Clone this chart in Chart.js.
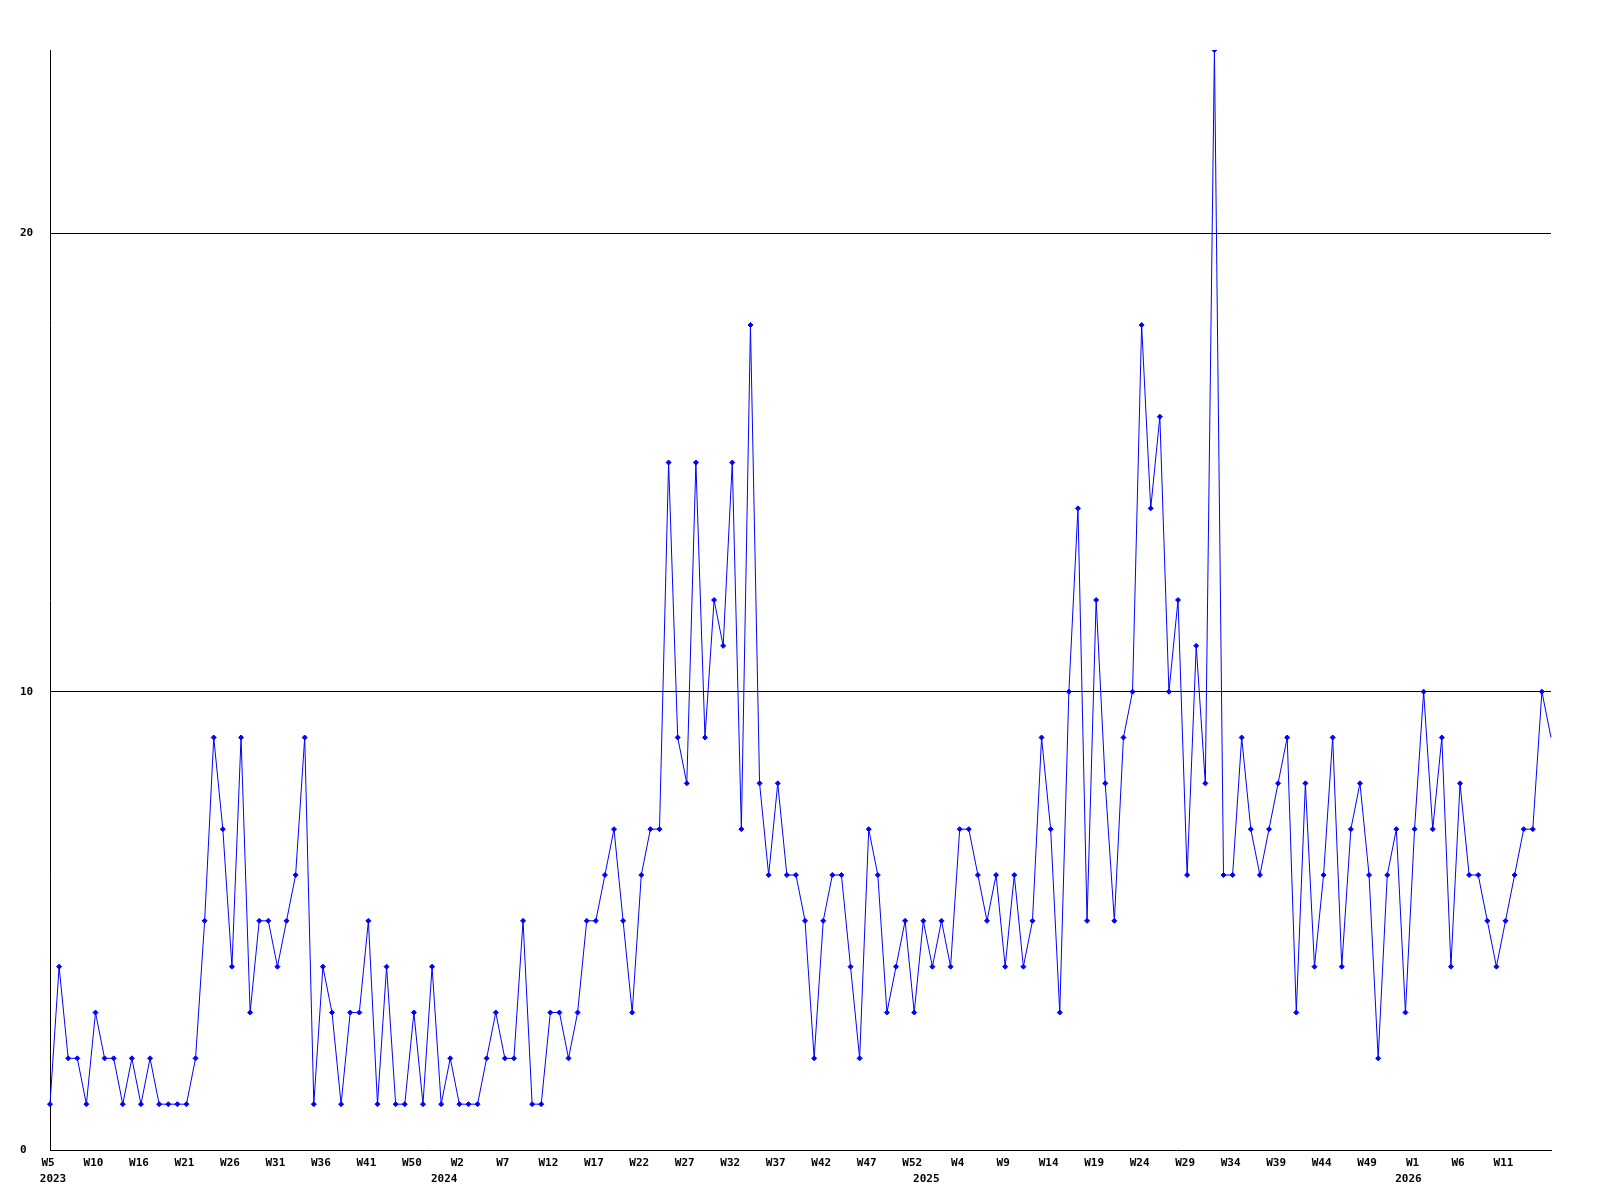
<!DOCTYPE html>
<html>
<head>
<meta charset="utf-8">
<script src="https://cdn.jsdelivr.net/npm/chart.js@4/dist/chart.umd.min.js"></script>
<style>
  html, body { margin: 0; padding: 0; background: #ffffff; }
  #wrap { width: 1600px; height: 1200px; }
</style>
</head>
<body>
<div id="wrap"><canvas id="c" width="1600" height="1200"></canvas></div>
<script>
// Weekly counts, 2023 W5 .. 2026 (one value per plotted week)
const values = [
  1,4,2,2,1,3,2,2,1,2,
  1,2,1,1,1,1,2,5,9,7,
  4,9,3,5,5,4,5,6,9,1,
  4,3,1,3,3,5,1,4,1,1,
  3,1,4,1,2,1,1,1,2,3,
  2,2,5,1,1,3,3,2,3,5,
  5,6,7,5,3,6,7,7,15,9,
  8,15,9,12,11,15,7,18,8,6,
  8,6,6,5,2,5,6,6,4,2,
  7,6,3,4,5,3,5,4,5,4,
  7,7,6,5,6,4,6,4,5,9,
  7,3,10,14,5,12,8,5,9,10,
  18,14,16,10,12,6,11,8,24,6,
  6,9,7,6,7,8,9,3,8,4,
  6,9,4,7,8,6,2,6,7,3,
  7,10,7,9,4,8,6,6,5,4,
  5,6,7,7,10,9
];

// Week tick labels, shown on every 5th week
const weekTickLabels = [
  'W5','W10','W16','W21','W26','W31','W36','W41','W50','W2','W7',
  'W12','W17','W22','W27','W32','W37','W42','W47','W52','W4','W9',
  'W14','W19','W24','W29','W34','W39','W44','W49','W1','W6','W11'
];
const weekTickEvery = 5;

// Year labels and the week (point index) where each year starts
const yearLabels = ['2023','2024','2025','2026'];
const yearStartIndex = [0, 43, 96, 149];

// Y axis tick values
const yTicks = [0, 10, 20];
const yMax = 24;

// Build the category rows from the arrays above
const weekRow = values.map((_, i) =>
  (i % weekTickEvery === 0 && weekTickLabels[i / weekTickEvery]) ? weekTickLabels[i / weekTickEvery] : '');
const yearRow = values.map((_, i) => {
  const yi = yearStartIndex.indexOf(i);
  return yi >= 0 ? yearLabels[yi] : '';
});

const FONT = { family: '"DejaVu Sans Mono", "Liberation Mono", monospace', size: 11, weight: 'bold', lineHeight: 16 / 11 };

new Chart(document.getElementById('c'), {
  type: 'line',
  data: {
    labels: weekRow,
    datasets: [{
      data: values,
      xAxisID: 'x',
      yAxisID: 'y',
      borderColor: '#0000ff',
      borderWidth: 1,
      tension: 0,
      fill: false,
      pointStyle: 'rectRot',
      pointRadius: (ctx) => ctx.dataIndex === values.length - 1 ? 0 : 2.5,
      pointBackgroundColor: '#0000ff',
      pointBorderColor: '#0000ff',
      pointBorderWidth: 1
    }]
  },
  options: {
    responsive: false,
    animation: false,
    devicePixelRatio: 1,
    events: [],
    layout: { padding: { top: 50, left: 20, right: 49, bottom: 10 } },
    plugins: { legend: { display: false }, tooltip: { enabled: false }, title: { display: false } },
    scales: {
      x: {
        type: 'category',
        position: 'bottom',
        offset: false,
        grid: { display: false, drawTicks: false },
        border: { display: true, color: '#000000', width: 1 },
        ticks: {
          autoSkip: false,
          maxRotation: 0,
          minRotation: 0,
          padding: 5,
          labelOffset: -2,
          color: '#000000',
          font: FONT,
          callback: function (v, i) { return weekRow[i]; }
        },
        afterFit: (s) => { s.height = 21; }
      },
      x2: {
        type: 'category',
        position: 'bottom',
        labels: yearRow,
        offset: false,
        grid: { display: false, drawTicks: false },
        border: { display: false },
        ticks: {
          autoSkip: false,
          maxRotation: 0,
          minRotation: 0,
          padding: 0,
          labelOffset: 3,
          color: '#000000',
          font: FONT,
          callback: function (v, i) { return yearRow[i]; }
        },
        afterFit: (s) => { s.height = 19; }
      },
      y: {
        min: 0,
        max: yMax,
        grid: {
          color: (ctx) => (ctx.tick && ctx.tick.value === 0) ? 'rgba(0,0,0,0)' : '#000000',
          lineWidth: 1,
          drawTicks: false
        },
        border: { display: true, color: '#000000', width: 1 },
        afterBuildTicks: (s) => { s.ticks = yTicks.map(v => ({ value: v })); },
        ticks: {
          crossAlign: 'far',
          padding: 0,
          color: '#000000',
          font: FONT,
          callback: (v) => String(v)
        },
        afterFit: (s) => { s.width = 30; }
      }
    }
  }
});
</script>
</body>
</html>
